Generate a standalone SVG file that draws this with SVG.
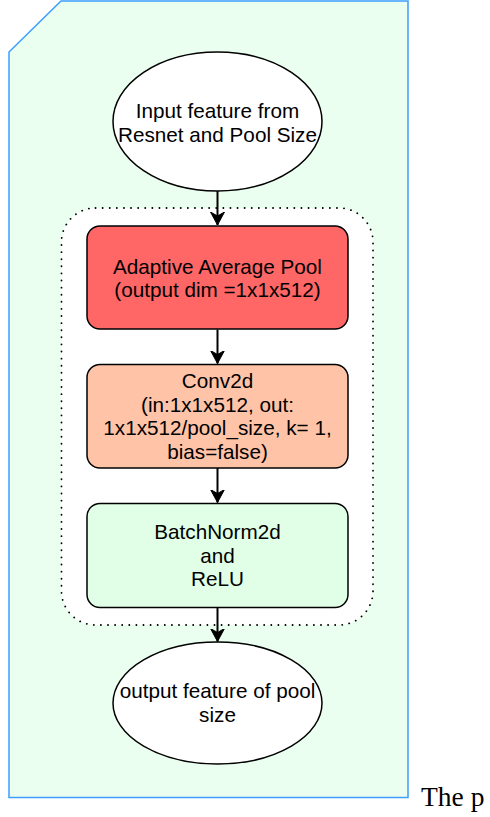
<svg xmlns="http://www.w3.org/2000/svg" width="490" height="817" viewBox="0 0 490 817">
  <style>
    .lbl { font-family: "Liberation Sans", Arial, Helvetica, sans-serif; font-size: 20.7px; fill: #000; text-anchor: middle; }
    .node { stroke: #000; stroke-width: 1.5; }
    .edge { fill: none; stroke: #000; stroke-width: 2; }
  </style>
  <defs>
    <marker id="arrow" markerWidth="14" markerHeight="16" refX="13" refY="7" orient="auto" markerUnits="userSpaceOnUse">
      <path d="M0,0 L13,7 L0,14 L4,7 Z" fill="#000" stroke="#000" stroke-width="1"/>
    </marker>
  </defs>

  <rect width="490" height="817" fill="#fff"/>

  <!-- outer card frame -->
  <g id="frame">
    <path d="M61,1 L408,1 L408,797.5 L9,797.5 L9,52 Z" fill="#EBFFF0" stroke="#3D9EFF" stroke-width="1.5"/>
  </g>

  <!-- dotted grouping around the layers -->
  <g id="group">
    <rect x="61.5" y="208" width="311.5" height="417" rx="34" ry="34" fill="#fff" stroke="#000" stroke-width="1.8" stroke-dasharray="0.1 7" stroke-linecap="round"/>
  </g>

  <g id="connectors">
    <line class="edge" x1="217.5" y1="191" x2="217.5" y2="225" marker-end="url(#arrow)"/>
    <line class="edge" x1="217.5" y1="329.5" x2="217.5" y2="363.5" marker-end="url(#arrow)"/>
    <line class="edge" x1="217.5" y1="468" x2="217.5" y2="502.5" marker-end="url(#arrow)"/>
    <line class="edge" x1="217.5" y1="607.5" x2="217.5" y2="641.5" marker-end="url(#arrow)"/>
  </g>

  <g id="input">
    <ellipse class="node" cx="217.5" cy="121.5" rx="104.5" ry="69.5" fill="#fff"/>
    <text class="lbl" x="217.5" y="118">Input feature from</text>
    <text class="lbl" x="217.5" y="141.5">Resnet and Pool Size</text>
  </g>

  <g id="pool">
    <rect class="node" x="87" y="226" width="261" height="103" rx="13" ry="13" fill="#FF6666"/>
    <text class="lbl" x="217.5" y="274">Adaptive Average Pool</text>
    <text class="lbl" x="217.5" y="297">(output dim =1x1x512)</text>
  </g>

  <g id="conv">
    <rect class="node" x="87" y="364.5" width="261" height="103.5" rx="13" ry="13" fill="#FFC4A8"/>
    <text class="lbl" x="217.5" y="388">Conv2d</text>
    <text class="lbl" x="217.5" y="411.5">(in:1x1x512, out:</text>
    <text class="lbl" x="217.5" y="435">1x1x512/pool_size, k= 1,</text>
    <text class="lbl" x="217.5" y="458.5">bias=false)</text>
  </g>

  <g id="bn">
    <rect class="node" x="87" y="503.5" width="261" height="104" rx="13" ry="13" fill="#E0FFE6"/>
    <text class="lbl" x="217.5" y="539">BatchNorm2d</text>
    <text class="lbl" x="217.5" y="562.5">and</text>
    <text class="lbl" x="217.5" y="586">ReLU</text>
  </g>

  <g id="output">
    <ellipse class="node" cx="217.5" cy="703" rx="104.5" ry="61" fill="#fff"/>
    <text class="lbl" x="217.5" y="698">output feature of pool</text>
    <text class="lbl" x="217.5" y="721.5">size</text>
  </g>

  <text x="421" y="806" font-family="'Liberation Serif', 'Times New Roman', serif" font-size="27.5" fill="#000">The p</text>
</svg>
